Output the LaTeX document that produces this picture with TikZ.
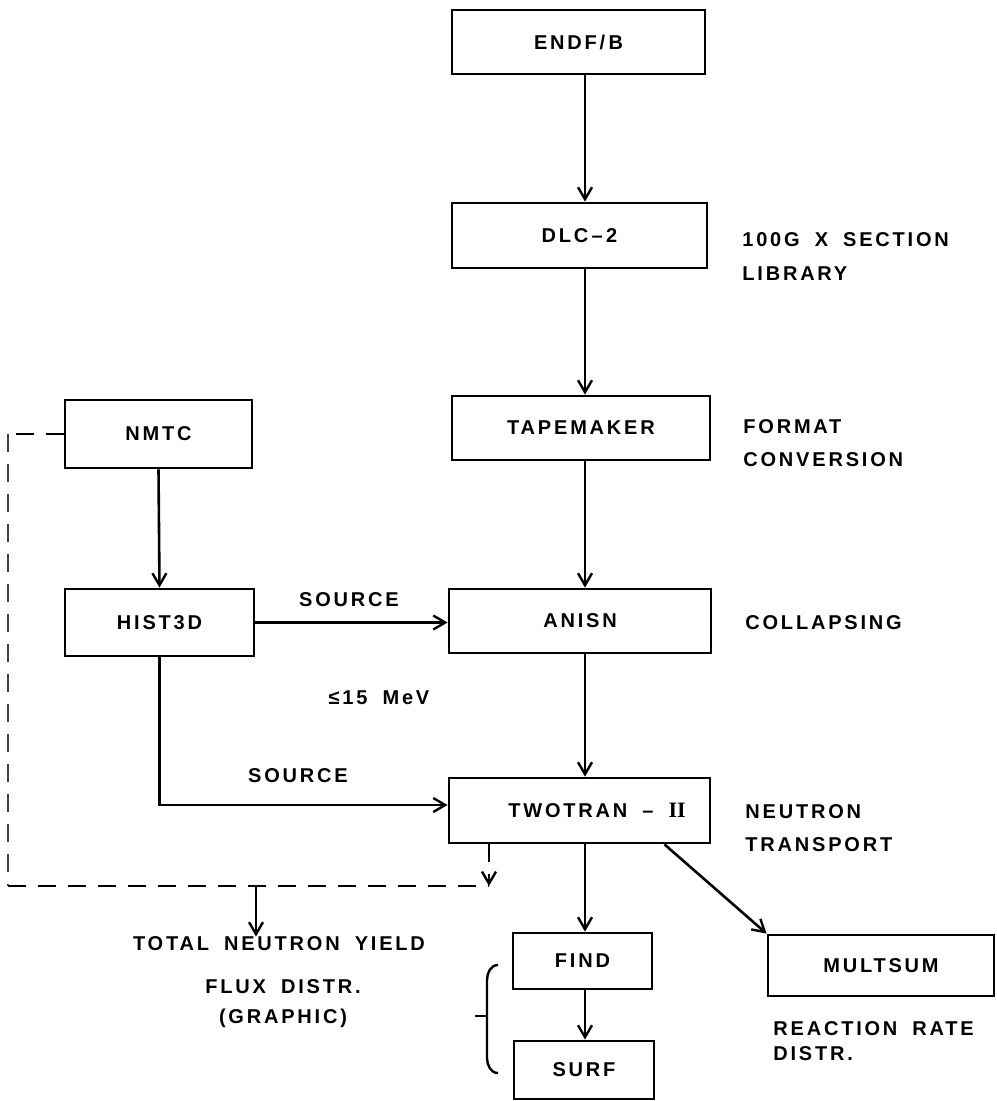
\documentclass[tikz,border=0pt]{standalone}
\usepackage{fontspec}
\setmainfont{Liberation Sans}[LetterSpace=14,WordSpace=1.8]
\newfontfamily\romnum{Liberation Serif}
\usetikzlibrary{arrows.meta}
\begin{document}
\begin{tikzpicture}[x=0.5pt,y=-0.5pt,
  font=\fontsize{10}{11}\selectfont\bfseries,
  box/.style={draw,line width=1.4pt,inner sep=0pt},
  arr/.style={line width=1.3pt,-{Straight Barb[length=6pt,width=7pt,line width=1.2pt]}},
  dsh/.style={line width=1.3pt,dash pattern=on 9pt off 6pt},
  side/.style={anchor=west,align=left,inner sep=0pt},
  lbl/.style={inner sep=0pt,align=center}]
\useasboundingbox (0,0) rectangle (996,1101);
% boxes
\node[box,minimum width=126.5pt,minimum height=32pt] (endf) at (578.5,42) {ENDF/\,B};
\node[box,minimum width=127.5pt,minimum height=32.5pt] (dlc) at (579.5,235.5) {DLC\,--\,2};
\node[box,minimum width=129pt,minimum height=32pt] (tape) at (581,428) {TAPEMAKER};
\node[box,minimum width=93.5pt,minimum height=34pt] (nmtc) at (158.5,434) {NMTC};
\node[box,minimum width=94.5pt,minimum height=33.5pt] (hist) at (159.5,622.5) {HIST3D};
\node[box,minimum width=131pt,minimum height=32pt] (anisn) at (580,621) {ANISN};
\node[box,minimum width=130.5pt,minimum height=32.5pt] (two) at (579.5,810.5) {\hspace*{17.5pt}TWOTRAN -- {\romnum\bfseries\fontsize{11}{11}\selectfont II}};
\node[box,minimum width=69.5pt,minimum height=28pt] (find) at (582.5,961) {FIND};
\node[box,minimum width=70pt,minimum height=29pt] (surf) at (584,1070) {SURF};
\node[box,minimum width=113pt,minimum height=30.5pt] (mult) at (881,965.5) {MULTSUM};
% side labels
\node[side,font=\fontsize{10}{17}\selectfont\bfseries] (l1) at (742,257) {100G X SECTION\\LIBRARY};
\node[side,font=\fontsize{10}{16.5}\selectfont\bfseries] (l2) at (743,443.5) {FORMAT\\CONVERSION};
\node[side] (l3) at (745,623) {COLLAPSING};
\node[side,font=\fontsize{10}{16.5}\selectfont\bfseries] (l4) at (745,828.5) {NEUTRON\\TRANSPORT};
\node[side,font=\fontsize{10}{12.5}\selectfont\bfseries] (l5) at (773,1041.5) {REACTION RATE\\DISTR.};
\node[lbl] (src1) at (349,600) {SOURCE};
\node[lbl] (mev) at (379,698) {≤15 MeV};
\node[lbl] (src2) at (298,776) {SOURCE};
\node[lbl] (yield) at (279,944) {TOTAL NEUTRON YIELD};
\node[lbl,font=\fontsize{10}{15}\selectfont\bfseries] (flux) at (283,1004) {FLUX DISTR.\\(GRAPHIC)};
% column coordinates
\coordinate (cx) at (585,0);
\coordinate (jx) at (489,886);
\coordinate (lx) at (8,0);
% main column
\draw[arr] (endf.south -| cx) -- (dlc.north -| cx);
\draw[arr] (dlc.south -| cx) -- (tape.north -| cx);
\draw[arr] (tape.south -| cx) -- (anisn.north -| cx);
\draw[arr] (anisn.south -| cx) -- (two.north -| cx);
\draw[arr] (two.south -| cx) -- (find.north -| cx);
\draw[arr] (find.south -| cx) -- (surf.north -| cx);
% left column
\draw[arr] (nmtc.south) -- (hist.north);
\draw[arr] (hist.east) -- (hist.east -| anisn.west);
\draw[arr] (hist.south) |- ([yshift=2.75pt]two.west);
% diagonal
\draw[arr] ([xshift=42.5pt]two.south) -- (mult.north west);
% dashed loop
\draw[dsh] (nmtc.west) -- (nmtc.west -| lx);
\draw[dsh,line width=0.9pt,black!75] (nmtc.west -| lx) -- (jx -| lx);
\draw[dsh] (jx -| lx) -- (jx);
\draw[dsh,-{Straight Barb[length=6pt,width=7pt,line width=1.2pt]}] (two.south -| jx) -- (jx);
\coordinate (yx) at (256,886);
\draw[arr] (yx) -- (yx |- yield.north);
% brace
\draw[line width=1.2pt] (498,965) to[out=180,in=90] (487,980) -- (487,1058) to[out=-90,in=180] (498,1073);
\draw[line width=1.2pt] (475,1016) -- (487,1016);
\end{tikzpicture}
\end{document}
